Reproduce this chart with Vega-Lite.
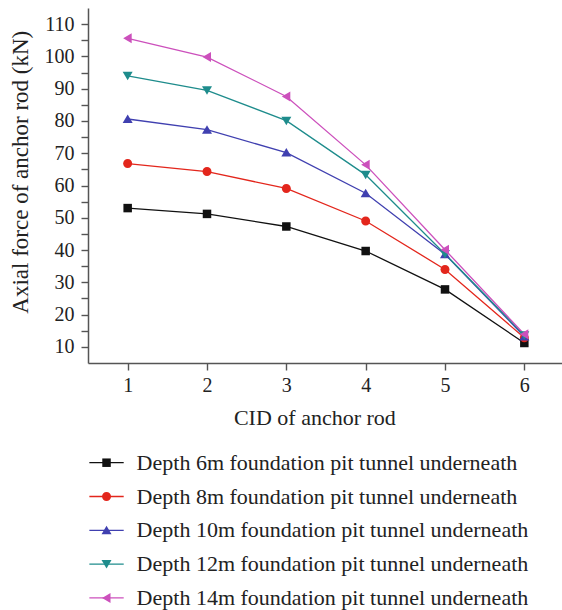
{
  "$schema": "https://vega.github.io/schema/vega-lite/v6.json",
  "padding": {"left": 9, "top": 8, "right": 0, "bottom": 0},
  "bounds": "flush",
  "spacing": 82.8,
  "config": {
    "font": "Liberation Serif",
    "view": {"stroke": null},
    "axis": {
      "grid": false,
      "domainColor": "#555555",
      "domainWidth": 1.5,
      "tickColor": "#555555",
      "tickWidth": 1.4,
      "tickSize": 7,
      "labelColor": "#222222",
      "labelFontSize": 20,
      "labelOverlap": false,
      "titleColor": "#222222",
      "titleFontSize": 22,
      "titleFontWeight": "normal"
    }
  },
  "data": {
    "values": [
      {"series": "Depth 6m foundation pit tunnel underneath", "cid": 1, "force": 53.0},
      {"series": "Depth 6m foundation pit tunnel underneath", "cid": 2, "force": 51.2},
      {"series": "Depth 6m foundation pit tunnel underneath", "cid": 3, "force": 47.3},
      {"series": "Depth 6m foundation pit tunnel underneath", "cid": 4, "force": 39.7},
      {"series": "Depth 6m foundation pit tunnel underneath", "cid": 5, "force": 27.8},
      {"series": "Depth 6m foundation pit tunnel underneath", "cid": 6, "force": 11.2},
      {"series": "Depth 8m foundation pit tunnel underneath", "cid": 1, "force": 66.8},
      {"series": "Depth 8m foundation pit tunnel underneath", "cid": 2, "force": 64.3},
      {"series": "Depth 8m foundation pit tunnel underneath", "cid": 3, "force": 59.1},
      {"series": "Depth 8m foundation pit tunnel underneath", "cid": 4, "force": 49.0},
      {"series": "Depth 8m foundation pit tunnel underneath", "cid": 5, "force": 34.0},
      {"series": "Depth 8m foundation pit tunnel underneath", "cid": 6, "force": 12.8},
      {"series": "Depth 10m foundation pit tunnel underneath", "cid": 1, "force": 80.6},
      {"series": "Depth 10m foundation pit tunnel underneath", "cid": 2, "force": 77.3},
      {"series": "Depth 10m foundation pit tunnel underneath", "cid": 3, "force": 70.2},
      {"series": "Depth 10m foundation pit tunnel underneath", "cid": 4, "force": 57.6},
      {"series": "Depth 10m foundation pit tunnel underneath", "cid": 5, "force": 38.7},
      {"series": "Depth 10m foundation pit tunnel underneath", "cid": 6, "force": 13.2},
      {"series": "Depth 12m foundation pit tunnel underneath", "cid": 1, "force": 94.0},
      {"series": "Depth 12m foundation pit tunnel underneath", "cid": 2, "force": 89.5},
      {"series": "Depth 12m foundation pit tunnel underneath", "cid": 3, "force": 80.1},
      {"series": "Depth 12m foundation pit tunnel underneath", "cid": 4, "force": 63.3},
      {"series": "Depth 12m foundation pit tunnel underneath", "cid": 5, "force": 38.8},
      {"series": "Depth 12m foundation pit tunnel underneath", "cid": 6, "force": 13.6},
      {"series": "Depth 14m foundation pit tunnel underneath", "cid": 1, "force": 105.6},
      {"series": "Depth 14m foundation pit tunnel underneath", "cid": 2, "force": 99.8},
      {"series": "Depth 14m foundation pit tunnel underneath", "cid": 3, "force": 87.6},
      {"series": "Depth 14m foundation pit tunnel underneath", "cid": 4, "force": 66.4},
      {"series": "Depth 14m foundation pit tunnel underneath", "cid": 5, "force": 40.1},
      {"series": "Depth 14m foundation pit tunnel underneath", "cid": 6, "force": 13.9}
    ]
  },
  "vconcat": [
    {
      "width": 476,
      "height": 355,
      "encoding": {
        "x": {
          "field": "cid",
          "type": "quantitative",
          "scale": {"domain": [0.5, 6.5], "nice": false, "zero": false},
          "axis": {
            "values": [1, 1.5, 2, 2.5, 3, 3.5, 4, 4.5, 5, 5.5, 6],
            "format": "d",
            "labelExpr": "datum.value % 1 === 0 ? datum.label : ''",
            "labelBaseline": "alphabetic",
            "labelPadding": 21,
            "title": "CID of anchor rod",
            "titleX": 226.4,
            "titleY": 61.3,
            "titleBaseline": "alphabetic",
            "encode": {"ticks": {"update": {"y2": {"signal": "datum.value % 1 === 0 ? 7 : 4"}}}}
          }
        },
        "y": {
          "field": "force",
          "type": "quantitative",
          "scale": {"domain": [5, 115], "nice": false, "zero": false},
          "axis": {
            "values": [10, 15, 20, 25, 30, 35, 40, 45, 50, 55, 60, 65, 70, 75, 80, 85, 90, 95, 100, 105, 110],
            "labelExpr": "datum.value % 10 === 0 ? datum.label : ''",
            "labelPadding": 7,
            "title": "Axial force of anchor rod (kN)",
            "titleFontSize": 23,
            "titleX": -60.3,
            "titleY": 163.7,
            "titleAngle": 270,
            "titleBaseline": "alphabetic",
            "encode": {"ticks": {"update": {"x2": {"signal": "datum.value % 10 === 0 ? -7 : -4"}}}}
          }
        },
        "color": {
          "field": "series",
          "type": "nominal",
          "scale": {
            "domain": [
              "Depth 6m foundation pit tunnel underneath",
              "Depth 8m foundation pit tunnel underneath",
              "Depth 10m foundation pit tunnel underneath",
              "Depth 12m foundation pit tunnel underneath",
              "Depth 14m foundation pit tunnel underneath"
            ],
            "range": ["#111111", "#e3261c", "#4040b0", "#1e8c8c", "#cc50bc"]
          },
          "legend": null
        }
      },
      "layer": [
        {"mark": {"type": "line", "strokeWidth": 1.3}},
        {
          "mark": {"type": "point", "filled": true, "size": 100, "opacity": 1},
          "encoding": {
            "shape": {
              "field": "series",
              "type": "nominal",
              "scale": {
                "domain": [
                  "Depth 6m foundation pit tunnel underneath",
                  "Depth 8m foundation pit tunnel underneath",
                  "Depth 10m foundation pit tunnel underneath",
                  "Depth 12m foundation pit tunnel underneath",
                  "Depth 14m foundation pit tunnel underneath"
                ],
                "range": [
                  "M-0.85,-0.85H0.85V0.85H-0.85Z",
                  "M-0.9,0A0.9,0.9,0,1,1,0.9,0A0.9,0.9,0,1,1,-0.9,0Z",
                  "M0,-0.9L1,0.8L-1,0.8Z",
                  "M0,0.9L-1,-0.8L1,-0.8Z",
                  "M-0.9,0L0.8,-1L0.8,1Z"
                ]
              },
              "legend": null
            }
          }
        }
      ]
    },
    {
      "width": 476,
      "height": 169,
      "transform": [{"filter": "datum.cid === 1"}],
      "encoding": {
        "y": {
          "field": "series",
          "type": "nominal",
          "scale": {
            "type": "point",
            "padding": 0.5,
            "domain": [
              "Depth 6m foundation pit tunnel underneath",
              "Depth 8m foundation pit tunnel underneath",
              "Depth 10m foundation pit tunnel underneath",
              "Depth 12m foundation pit tunnel underneath",
              "Depth 14m foundation pit tunnel underneath"
            ]
          },
          "axis": null
        },
        "color": {
          "field": "series",
          "type": "nominal",
          "scale": {
            "domain": [
              "Depth 6m foundation pit tunnel underneath",
              "Depth 8m foundation pit tunnel underneath",
              "Depth 10m foundation pit tunnel underneath",
              "Depth 12m foundation pit tunnel underneath",
              "Depth 14m foundation pit tunnel underneath"
            ],
            "range": ["#111111", "#e3261c", "#4040b0", "#1e8c8c", "#cc50bc"]
          },
          "legend": null
        }
      },
      "layer": [
        {
          "mark": {"type": "rule", "strokeWidth": 1.3},
          "encoding": {
            "x": {"datum": 0.04, "type": "quantitative", "scale": {"domain": [0, 14], "nice": false, "zero": false}, "axis": null},
            "x2": {"datum": 1.05}
          }
        },
        {
          "mark": {"type": "point", "filled": true, "size": 100, "opacity": 1},
          "encoding": {
            "x": {"datum": 0.545, "type": "quantitative", "scale": {"domain": [0, 14], "nice": false, "zero": false}, "axis": null},
            "shape": {
              "field": "series",
              "type": "nominal",
              "scale": {
                "domain": [
                  "Depth 6m foundation pit tunnel underneath",
                  "Depth 8m foundation pit tunnel underneath",
                  "Depth 10m foundation pit tunnel underneath",
                  "Depth 12m foundation pit tunnel underneath",
                  "Depth 14m foundation pit tunnel underneath"
                ],
                "range": [
                  "M-0.85,-0.85H0.85V0.85H-0.85Z",
                  "M-0.9,0A0.9,0.9,0,1,1,0.9,0A0.9,0.9,0,1,1,-0.9,0Z",
                  "M0,-0.9L1,0.8L-1,0.8Z",
                  "M0,0.9L-1,-0.8L1,-0.8Z",
                  "M-0.9,0L0.8,-1L0.8,1Z"
                ]
              },
              "legend": null
            }
          }
        },
        {
          "mark": {"type": "text", "align": "left", "baseline": "middle", "fontSize": 22, "color": "#222222"},
          "encoding": {
            "x": {"datum": 1.43, "type": "quantitative", "scale": {"domain": [0, 14], "nice": false, "zero": false}, "axis": null},
            "text": {"field": "series", "type": "nominal"},
            "color": {"value": "#222222"}
          }
        }
      ]
    }
  ]
}
